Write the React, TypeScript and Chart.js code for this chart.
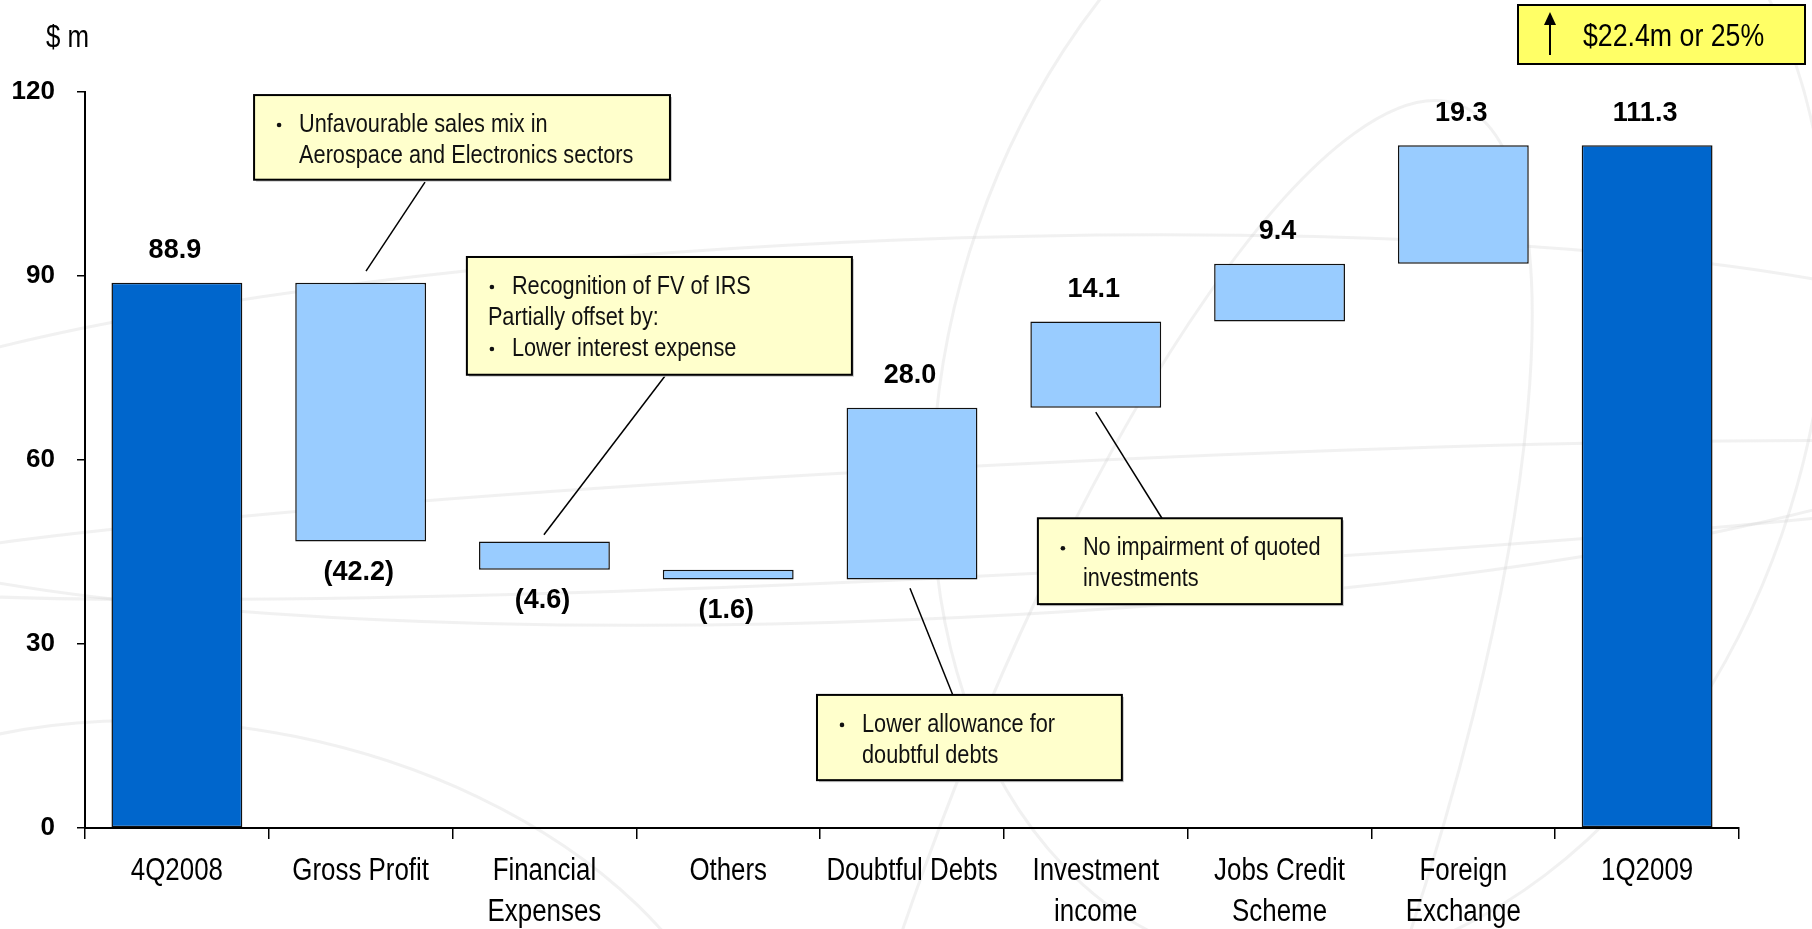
import React, { useEffect, useRef } from "react";
import { Chart, registerables } from "chart.js";

Chart.register(...registerables);

// ---------------- data ----------------
const categories: string[][] = [
  ["4Q2008"],
  ["Gross Profit"],
  ["Financial", "Expenses"],
  ["Others"],
  ["Doubtful Debts"],
  ["Investment", "income"],
  ["Jobs Credit", "Scheme"],
  ["Foreign", "Exchange"],
  ["1Q2009"],
];
const openingTotal = 88.9;
const changes = [-42.2, -4.6, -1.6, 28.0, 14.1, 9.4, 19.3];
const closingTotal = 111.3;
const yTickValues = [0, 30, 60, 90, 120];
const yAxisTitle = "$ m";
const headline = "$22.4m or 25%";

// callouts: box corners and leader ends given in axis units (category index, $m)
const callouts = [
  {
    box: [0.42, 119.5, 2.683, 105.7],
    leader: [1.35, 105.3, 1.029, 90.8],
    lines: [
      { bullet: true, text: "Unfavourable sales mix in" },
      { bullet: false, text: "Aerospace and Electronics sectors" },
    ],
  },
  {
    box: [1.578, 93.1, 3.673, 73.9],
    leader: [2.656, 73.7, 1.997, 47.8],
    lines: [
      { bullet: true, text: "Recognition of FV of IRS" },
      { bullet: false, flush: true, text: "Partially offset by:" },
      { bullet: true, text: "Lower interest expense" },
    ],
  },
  {
    box: [3.483, 21.7, 5.142, 7.8],
    leader: [3.989, 39.1, 4.222, 21.7],
    lines: [
      { bullet: true, text: "Lower allowance for" },
      { bullet: false, text: "doubtful debts" },
    ],
  },
  {
    box: [4.685, 50.5, 6.339, 36.5],
    leader: [5.0, 67.8, 5.36, 50.5],
    lines: [
      { bullet: true, text: "No impairment of quoted" },
      { bullet: false, text: "investments" },
    ],
  },
];

// ---------------- styling ----------------
const DARK = "#0066CC";
const LIGHT = "#99CCFF";
const WIDE = '"Liberation Sans", Arial, sans-serif';
const NARROW_SCALE = 0.835;

function fillNarrow(ctx: CanvasRenderingContext2D, text: string, x: number, y: number, size: number, align: CanvasTextAlign) {
  ctx.save();
  ctx.font = `${size}px ${WIDE}`;
  ctx.textAlign = align;
  ctx.textBaseline = "middle";
  ctx.translate(x, y);
  ctx.scale(NARROW_SCALE, 1);
  ctx.fillText(text, 0, 0);
  ctx.restore();
}

function buildBars() {
  const bars: [number, number][] = [];
  const colors: string[] = [];
  const labels: string[] = [];
  const up: boolean[] = [];
  bars.push([0, openingTotal]);
  colors.push(DARK);
  labels.push(openingTotal.toFixed(1));
  up.push(true);
  let run = openingTotal;
  for (const c of changes) {
    const next = Math.round((run + c) * 10) / 10;
    bars.push([run, next]);
    colors.push(LIGHT);
    labels.push(c < 0 ? `(${Math.abs(c).toFixed(1)})` : c.toFixed(1));
    up.push(c >= 0);
    run = next;
  }
  bars.push([0, closingTotal]);
  colors.push(DARK);
  labels.push(closingTotal.toFixed(1));
  up.push(true);
  return { bars, colors, labels, up };
}

export default function App() {
  const ref = useRef<HTMLCanvasElement | null>(null);

  useEffect(() => {
    const canvas = ref.current;
    if (!canvas) return;
    const { bars, colors, labels, up } = buildBars();

    const backgroundPlugin = {
      id: "bgWatermark",
      beforeDraw(chart: any) {
        const ctx = chart.ctx;
        ctx.save();
        ctx.fillStyle = "#ffffff";
        ctx.fillRect(0, 0, chart.width, chart.height);
        ctx.strokeStyle = "rgba(205,205,205,0.28)";
        ctx.lineWidth = 3;
        const shapes: number[][] = [
          [900, 430, 1150, 190, -0.04],
          [1000, 520, 1150, 55, -0.05],
          [1380, 380, 430, 600, 0.3],
          [230, 1060, 520, 330, 0.2],
          [1150, 950, 240, 900, 0.35],
        ];
        for (const s of shapes) {
          ctx.beginPath();
          ctx.ellipse(s[0], s[1], s[2], s[3], s[4], 0, Math.PI * 2);
          ctx.stroke();
        }
        ctx.restore();
      },
    };

    const labelPlugin = {
      id: "labels",
      afterDatasetsDraw(chart: any) {
        const ctx = chart.ctx;
        const meta = chart.getDatasetMeta(0);
        ctx.save();
        ctx.font = `bold 27px ${WIDE}`;
        ctx.fillStyle = "#000";
        ctx.textAlign = "center";
        ctx.textBaseline = "middle";
        meta.data.forEach((el: any, i: number) => {
          const top = Math.min(el.y, el.base);
          const bottom = Math.max(el.y, el.base);
          const y = up[i] ? top - 32 : bottom + 31;
          ctx.fillText(labels[i], el.x - 2, y);
        });
        // category labels (condensed)
        const xs = chart.scales.x;
        ctx.fillStyle = "#000";
        categories.forEach((lines, i) => {
          const x = xs.getPixelForTick(i);
          lines.forEach((t, j) => {
            fillNarrow(ctx, t, x, xs.top + 43 + j * 41, 31, "center");
          });
        });
        ctx.restore();
      },
    };

    const calloutPlugin = {
      id: "callouts",
      afterDraw(chart: any) {
        const ctx = chart.ctx;
        const xs = chart.scales.x;
        const ys = chart.scales.y;
        const px = (v: number) => xs.getPixelForValue(v);
        const py = (v: number) => ys.getPixelForValue(v);
        ctx.save();
        for (const c of callouts) {
          ctx.strokeStyle = "#000";
          ctx.lineWidth = 1.5;
          ctx.beginPath();
          ctx.moveTo(px(c.leader[0]), py(c.leader[1]));
          ctx.lineTo(px(c.leader[2]), py(c.leader[3]));
          ctx.stroke();
          const l = px(c.box[0]);
          const t = py(c.box[1]);
          const r = px(c.box[2]);
          const b = py(c.box[3]);
          ctx.fillStyle = "#c8c8c8";
          ctx.fillRect(l + 2, t + 2, r - l, b - t);
          ctx.fillStyle = "#FFFFCC";
          ctx.fillRect(l, t, r - l, b - t);
          ctx.strokeStyle = "#000";
          ctx.lineWidth = 2;
          ctx.strokeRect(l, t, r - l, b - t);
          ctx.fillStyle = "#111";
          c.lines.forEach((ln: any, i: number) => {
            const y = t + 30 + i * 31;
            if (ln.bullet) {
              ctx.beginPath();
              ctx.arc(l + 25, y, 2.3, 0, Math.PI * 2);
              ctx.fill();
            }
            fillNarrow(ctx, ln.text, l + (ln.flush ? 21 : 45), y, 26, "left");
          });
        }
        // y-axis unit title
        ctx.fillStyle = "#000";
        fillNarrow(ctx, yAxisTitle, 46, 38, 31, "left");
        // headline box (top right)
        const bl = 1518, bt = 5, bw = 287, bh = 59;
        ctx.fillStyle = "#FFFF66";
        ctx.fillRect(bl, bt, bw, bh);
        ctx.strokeStyle = "#000";
        ctx.lineWidth = 2;
        ctx.strokeRect(bl, bt, bw, bh);
        ctx.beginPath();
        ctx.moveTo(bl + 32, bt + 50);
        ctx.lineTo(bl + 32, bt + 18);
        ctx.stroke();
        ctx.fillStyle = "#000";
        ctx.beginPath();
        ctx.moveTo(bl + 32, bt + 7);
        ctx.lineTo(bl + 26, bt + 20);
        ctx.lineTo(bl + 38, bt + 20);
        ctx.closePath();
        ctx.fill();
        fillNarrow(ctx, headline, bl + 65, bt + 32, 32, "left");
        ctx.restore();
      },
    };

    const chart = new Chart(canvas, {
      type: "bar",
      data: {
        labels: categories,
        datasets: [
          {
            data: bars as any,
            backgroundColor: colors,
            borderColor: "#111",
            borderWidth: 1.5,
            borderSkipped: false,
            barPercentage: 0.712,
            categoryPercentage: 1,
          },
        ],
      },
      options: {
        responsive: false,
        animation: false,
        devicePixelRatio: 1,
        layout: { padding: { left: 0, right: 73, top: 92, bottom: 0 } },
        plugins: {
          legend: { display: false },
          tooltip: { enabled: false },
          title: { display: false },
        },
        scales: {
          x: {
            type: "category",
            afterFit: (s: any) => {
              s.height = 101;
            },
            grid: {
              display: true,
              drawOnChartArea: false,
              drawTicks: true,
              tickLength: 11,
              color: "#000",
              lineWidth: 1.5,
              offset: true,
            },
            border: { display: true, color: "#000", width: 2 },
            ticks: {
              color: "rgba(0,0,0,0)",
              font: { family: WIDE, size: 29, lineHeight: 1.38 },
              padding: 12,
              maxRotation: 0,
              autoSkip: false,
            },
          },
          y: {
            min: 0,
            max: 120,
            afterFit: (s: any) => {
              s.width = 85;
            },
            afterBuildTicks: (s: any) => {
              s.ticks = yTickValues.map((v) => ({ value: v }));
            },
            grid: {
              display: true,
              drawOnChartArea: false,
              drawTicks: true,
              tickLength: 8,
              color: "#000",
              lineWidth: 1.5,
            },
            border: { display: true, color: "#000", width: 2 },
            ticks: {
              color: "#000",
              font: { family: WIDE, size: 26, weight: "bold" },
              padding: 22,
            },
          },
        },
      },
      plugins: [backgroundPlugin, labelPlugin, calloutPlugin],
    });

    return () => chart.destroy();
  }, []);

  return (
    <div style={{ position: "fixed", left: 0, top: 0, width: 1812, height: 929, background: "#fff" }}>
      <canvas ref={ref} width={1812} height={929} style={{ display: "block" }} />
    </div>
  );
}
